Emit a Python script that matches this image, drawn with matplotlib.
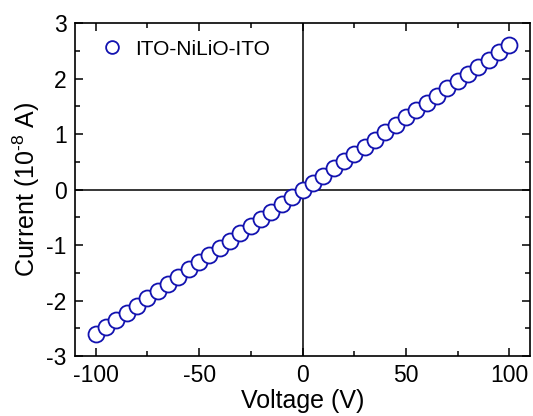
import matplotlib
matplotlib.use('Agg')
import matplotlib.pyplot as plt
from matplotlib.ticker import MultipleLocator

plt.rcParams['font.family'] = ['Liberation Sans', 'DejaVu Sans']
plt.rcParams['axes.unicode_minus'] = False
plt.rcParams['mathtext.fontset'] = 'custom'
plt.rcParams['mathtext.rm'] = 'Liberation Sans'
plt.rcParams['mathtext.it'] = 'Liberation Sans:italic'

# I-V data
voltage = [-100, -95, -90, -85, -80, -75, -70, -65, -60, -55, -50,
           -45, -40, -35, -30, -25, -20, -15, -10, -5, 0,
           5, 10, 15, 20, 25, 30, 35, 40, 45, 50,
           55, 60, 65, 70, 75, 80, 85, 90, 95, 100]
current = [-2.61, -2.48, -2.35, -2.22, -2.09, -1.96, -1.83, -1.70, -1.57, -1.44, -1.31,
           -1.18, -1.05, -0.92, -0.79, -0.66, -0.53, -0.40, -0.27, -0.14, -0.01,
           0.12, 0.25, 0.38, 0.51, 0.64, 0.77, 0.90, 1.03, 1.17, 1.30,
           1.43, 1.56, 1.69, 1.82, 1.95, 2.08, 2.21, 2.34, 2.47, 2.60]
label = 'ITO-NiLiO-ITO'
blue = '#1212b0'

fig = plt.figure(figsize=(5.33, 4.16), dpi=100)
ax = fig.add_axes([0.1407, 0.1442, 0.8537, 0.8005])

ax.axhline(0, color='black', lw=1.1, zorder=1)
ax.axvline(0, color='black', lw=1.1, zorder=1)
ax.plot(voltage, current, 'o', ms=11.5, mfc='white', mec=blue, mew=1.3,
        label=label, zorder=3)

ax.set_xlim(-110, 110)
ax.set_ylim(-3, 3)
ax.xaxis.set_major_locator(MultipleLocator(50))
ax.xaxis.set_minor_locator(MultipleLocator(25))
ax.yaxis.set_major_locator(MultipleLocator(1))
ax.yaxis.set_minor_locator(MultipleLocator(0.5))
ax.tick_params(which='both', direction='in', top=True, right=True,
               labeltop=False, labelright=False, width=1.1)
ax.tick_params(which='major', length=6, labelsize=16.5, pad=6)
ax.tick_params(which='minor', length=3.5)
for s in ax.spines.values():
    s.set_linewidth(1.2)

ax.set_xlabel('Voltage (V)', fontsize=18, labelpad=1)
ax.set_ylabel('Current (10$^{\\text{-}8}$ A)', fontsize=18, labelpad=3)

ax.legend(loc='upper left', frameon=False, fontsize=15, handletextpad=0.1,
          borderaxespad=0.4, markerscale=0.8)

fig.savefig('out.png', dpi=100)
